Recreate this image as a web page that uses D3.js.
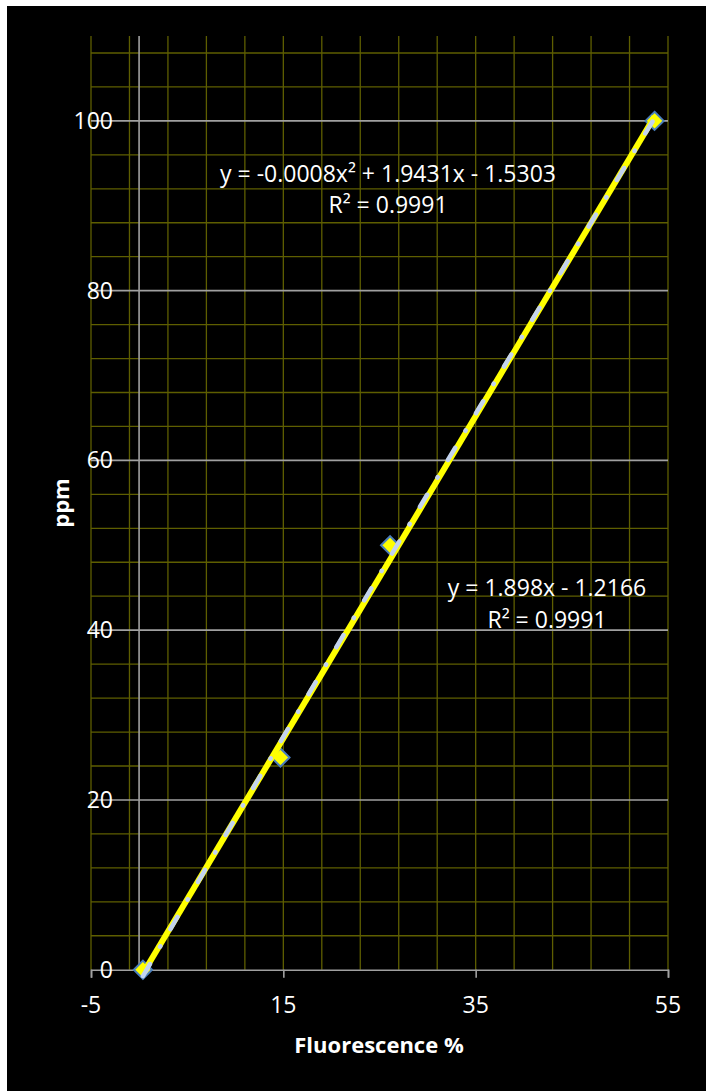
<!DOCTYPE html>
<html>
<head>
<meta charset="utf-8">
<script src="https://cdn.jsdelivr.net/npm/d3@7"></script>
<style>
  html, body { margin: 0; padding: 0; background: #ffffff; }
  svg { display: block; }
  text { font-family: "Open Sans", "Liberation Sans", sans-serif; fill: #ffffff; }
</style>
</head>
<body>
<script>
// Calibration points: fluorescence reading vs concentration
const fluorescence = [0.4, 14.7, 26.1, 53.6];
const ppm = [0, 25, 50, 100];

// Trendline coefficients (highest power first)
const quadCoef = [-0.0008, 1.9431, -1.5303];
const linCoef = [1.898, -1.2166];

const xTicks = [-5, 15, 35, 55];
const yTicks = [0, 20, 40, 60, 80, 100];

const W = 706, H = 1091;
const svg = d3.select("body").append("svg").attr("width", W).attr("height", H);

// white margin on the left/top, black chart area
svg.append("rect").attr("x", 0).attr("y", 0).attr("width", W).attr("height", H).attr("fill", "#ffffff");
svg.append("rect").attr("x", 7).attr("y", 6).attr("width", W - 7).attr("height", H - 6).attr("fill", "#000000");

const x = d3.scaleLinear().domain([-5, 55]).range([91, 668]);
const y = d3.scaleLinear().domain([0, 110]).range([969.7, 36]);

const minorX = d3.range(-5, 55.001, 4);
const minorY = d3.range(4, 110, 4).filter(v => v % 20 !== 0);

const grid = svg.append("g");
// minor gridlines (dark yellow)
grid.selectAll("line.mx").data(minorX).join("line")
  .attr("x1", d => x(d)).attr("x2", d => x(d))
  .attr("y1", y(110)).attr("y2", y(0))
  .attr("stroke", "#5e5e00").attr("stroke-width", 1.3);
grid.selectAll("line.my").data(minorY).join("line")
  .attr("x1", x(-5)).attr("x2", x(55))
  .attr("y1", d => y(d)).attr("y2", d => y(d))
  .attr("stroke", "#5e5e00").attr("stroke-width", 1.3);
// major horizontal gridlines (grey)
grid.selectAll("line.My").data(yTicks.filter(v => v > 0)).join("line")
  .attr("x1", x(-5)).attr("x2", x(55))
  .attr("y1", d => y(d)).attr("y2", d => y(d))
  .attr("stroke", "#a0a0a0").attr("stroke-width", 1.6);

// value axis at x = 0
svg.append("line")
  .attr("x1", x(0)).attr("x2", x(0)).attr("y1", y(110)).attr("y2", y(0))
  .attr("stroke", "#a0a0a0").attr("stroke-width", 1.6);

// category axis at y = 0, with ticks below
const xAxis = d3.axisBottom(x).tickValues(xTicks).tickSize(8).tickFormat("");
const gx = svg.append("g").attr("transform", `translate(0,${y(0)})`).call(xAxis);
gx.select(".domain").attr("stroke", "#a0a0a0").attr("stroke-width", 1.6);
gx.selectAll(".tick line").attr("stroke", "#a0a0a0").attr("stroke-width", 1.6);

// x tick labels
svg.selectAll("text.xl").data(xTicks).join("text")
  .attr("x", d => x(d)).attr("y", 1013)
  .attr("text-anchor", "middle").attr("font-size", 23)
  .text(d => d);

// y tick labels
svg.selectAll("text.yl").data(yTicks).join("text")
  .attr("x", 113).attr("y", d => y(d) + 8)
  .attr("text-anchor", "end").attr("font-size", 23)
  .text(d => d);

// data markers
const diamond = d3.symbol().type(d3.symbolDiamond2).size(210);
svg.selectAll("path.pt").data(fluorescence.map((f, i) => [f, ppm[i]])).join("path")
  .attr("d", diamond)
  .attr("transform", d => `translate(${x(d[0])},${y(d[1])})`)
  .attr("fill", "#ffff00").attr("stroke", "#4a7ebb").attr("stroke-width", 2);

const xMin = d3.min(fluorescence), xMax = d3.max(fluorescence);
const line = d3.line().x(d => x(d[0])).y(d => y(d[1]));

// linear trendline
const linPts = [xMin, xMax].map(v => [v, linCoef[0] * v + linCoef[1]]);
svg.append("path").attr("d", line(linPts))
  .attr("fill", "none").attr("stroke", "#ffff00").attr("stroke-width", 6);

// polynomial trendline
const quadPts = d3.range(0, 61).map(i => {
  const v = xMin + (xMax - xMin) * i / 60;
  return [v, quadCoef[0] * v * v + quadCoef[1] * v + quadCoef[2]];
});
svg.append("path").attr("d", line(quadPts))
  .attr("fill", "none").attr("stroke", "#c3d3ef").attr("stroke-width", 4.5)
  .attr("stroke-linecap", "round").attr("stroke-dasharray", "14,20,0.5,20");

// trendline equations
const eq = svg.append("g").attr("font-size", 23).attr("text-anchor", "middle");
eq.append("text").attr("x", 388).attr("y", 182).text("y = -0.0008x² + 1.9431x - 1.5303");
eq.append("text").attr("x", 388).attr("y", 213).text("R² = 0.9991");
eq.append("text").attr("x", 547).attr("y", 596).text("y = 1.898x - 1.2166");
eq.append("text").attr("x", 547).attr("y", 628).text("R² = 0.9991");

// axis titles
svg.append("text").attr("x", 379).attr("y", 1053)
  .attr("text-anchor", "middle").attr("font-size", 22).attr("font-weight", "bold")
  .text("Fluorescence %");
svg.append("text").attr("transform", "translate(69,503) rotate(-90)")
  .attr("text-anchor", "middle").attr("font-size", 22).attr("font-weight", "bold")
  .text("ppm");
</script>
</body>
</html>
